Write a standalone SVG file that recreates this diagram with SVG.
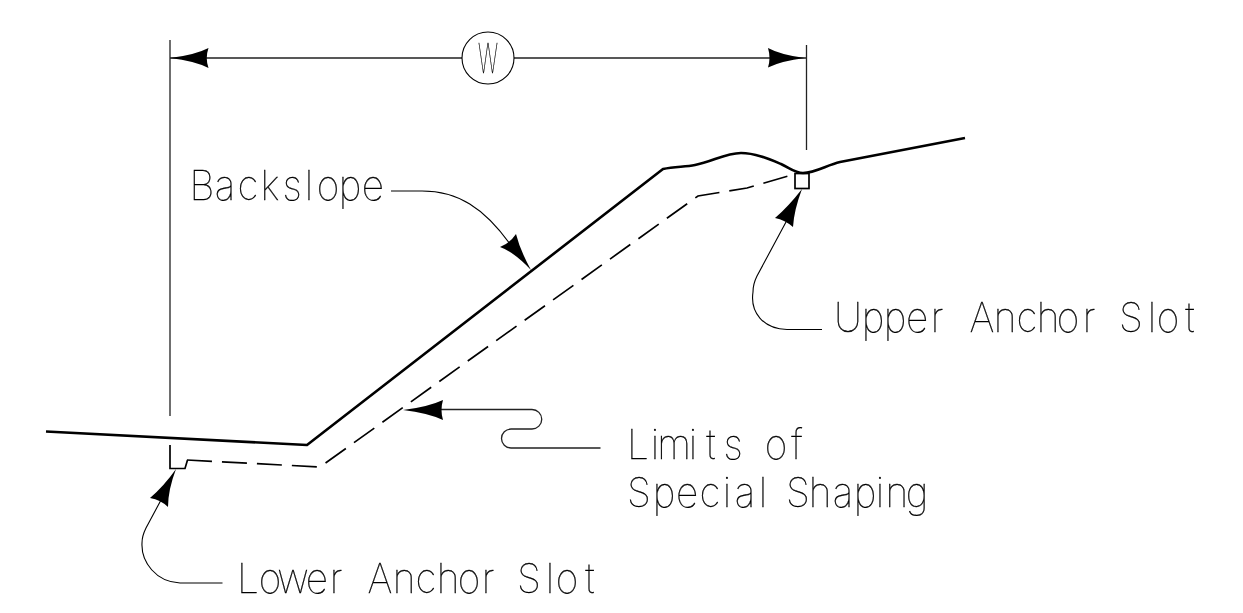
<svg xmlns="http://www.w3.org/2000/svg" width="1243" height="613" viewBox="0 0 1243 613">
<style>
.bg{fill:#fff}
.thin{fill:none;stroke:#000;stroke-width:1.1}
.ext{fill:none;stroke:#222;stroke-width:1.3}
.thick{fill:none;stroke:#000;stroke-width:2.6;stroke-linejoin:round}
.med{fill:none;stroke:#000;stroke-width:1.7}
.dash{stroke-dasharray:25 10}
.head{fill:#000;stroke:none}
.lbl{filter:url(#gray)}
text{font-family:"Inter","Roboto","DejaVu Sans",sans-serif;font-weight:100;font-size:41px;fill:#000;stroke:#000;stroke-width:.3}
.sq{text-anchor:middle}
</style>
<defs><filter id="gray" x="0" y="0" width="1" height="1" filterUnits="objectBoundingBox" primitiveUnits="userSpaceOnUse"><feOffset dx="0" dy="0"/></filter></defs>
<rect class="bg" width="1243" height="613"/>
<g id="terrain">
<path class="thick" d="M46 431.5L307 445L663 169C675 166.500 685 167 695 165C712 162 725 153 741 153C755 153 769 159 781 164C790 168 795 173 803 173C815 173 827 165 840 162L965 138"/>
<path class="med dash" d="M187 460L320 467L698 196L747 188L795 174"/>
<path class="med" d="M170 445V468.500H185L187.500 460"/>
<rect class="med" x="795" y="173.500" width="14" height="15"/>
</g>
<g id="connectors">
<path class="ext" d="M170 40V416M806.500 45V150M170 58H462M514 58H806"/>
<path class="thin" d="M391 191H422C458 191 484 208 510 244"/>
<path class="thin" d="M822 329.500H787C763 329 750 312 753 292C753 285 755 280 757 276L786 222"/>
<path class="thin" d="M222.500 583H180C156 582 141 562 142 543C142 536 144 532 146 528L161 500"/>
<path class="ext" d="M440 409.500H532A9.500 9.500 0 0 1 532 429H511A9.500 9.500 0 0 0 511 448H600.500"/>
<path class="head" d="M170 58Q195 55 208.500 48Q205 58 208.500 68Q195 61 170 58Z"/>
<path class="head" d="M805 58Q781 55 768 48Q771 58 768 67.500Q781 61 805 58Z"/>
<path class="head" d="M531 270Q514 252 500 247Q510 243 516 234Q520 250 531 270Z"/>
<path class="head" d="M802 189Q788 207 775 218Q785 220 793 227Q794 210 802 189Z"/>
<path class="head" d="M176 469Q164 486 150 498Q161 500 168 507Q168 490 176 469Z"/>
<path class="head" d="M403 410Q428 407 443 400Q440 410 443 420Q428 413 403 410Z"/>
</g>
<g id="width-tag">
<circle class="thin" cx="488" cy="58" r="26"/>
<g class="lbl"><text x="478" y="72.500" textLength="20" lengthAdjust="spacingAndGlyphs">W</text></g>
</g>
<g id="label-backslope" class="lbl"><text class="sq" transform="scale(.95,1)" y="200" x="212.6 236.8 261.1 284.2 307.4 325.3 345.3 368.4 392.6">Backslope</text></g>
<g id="label-upper" class="lbl"><text class="sq" transform="scale(.95,1)" y="332" xml:space="preserve" x="892.6 918.9 942.1 965.3 986.3 1010.5 1033.7 1057.9 1081.1 1103.2 1124.2 1146.3 1168.4 1190.5 1212.6 1229.5 1252.6">Upper Anchor Slot</text></g>
<g id="label-lower" class="lbl"><text class="sq" transform="scale(.95,1)" y="593.500" xml:space="preserve" x="261.1 284.2 308.4 333.7 353.7 376.8 400 425.3 448.4 471.6 493.7 513.7 534.7 556.8 578.9 596.8 621.1">Lower Anchor Slot</text></g>
<g id="label-limits" class="lbl"><text class="sq" transform="scale(.95,1)" y="459" xml:space="preserve" x="671.6 689.5 709.5 729.5 748.4 771.6 794.7 816.8 838.9">Limits of</text><text class="sq" transform="scale(.95,1)" y="507" xml:space="preserve" x="672.6 698.9 723.2 747.4 765.3 784.2 803.2 821.1 840 863.2 887.4 910.5 926.3 944.2 965.3">Special Shaping</text></g>
</svg>
